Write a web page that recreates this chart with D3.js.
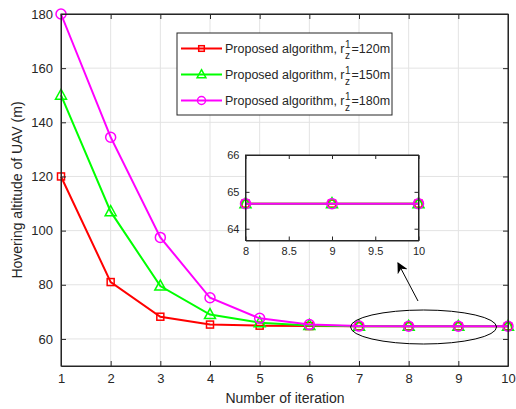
<!DOCTYPE html>
<html>
<head>
<meta charset="utf-8">
<script src="https://cdn.jsdelivr.net/npm/d3@7"></script>
<style>
  body { margin: 0; background: #fff; }
  text { font-family: "Liberation Sans", Arial, sans-serif; fill: #262626; }
</style>
</head>
<body>
<div id="chart"></div>
<script>
var iterations = [1, 2, 3, 4, 5, 6, 7, 8, 9, 10];
var alt120 = [120, 81, 68.2, 65.3, 64.9, 64.75, 64.68, 64.68, 64.68, 64.68];
var alt150 = [150, 107, 79.5, 69, 66, 65, 64.7, 64.68, 64.68, 64.68];
var alt180 = [180, 134.5, 97.5, 75.2, 67.6, 65.3, 64.75, 64.68, 64.68, 64.68];
var seriesNames = ["120m", "150m", "180m"];
var yTicks = [60, 80, 100, 120, 140, 160, 180];
var insetXTicks = [8, 8.5, 9, 9.5, 10];
var insetYTicks = [64, 65, 66];

var series = [
  {name: seriesNames[0], values: alt120, color: "#ff0000", marker: "square"},
  {name: seriesNames[1], values: alt150, color: "#00ff00", marker: "triangle"},
  {name: seriesNames[2], values: alt180, color: "#ff00ff", marker: "circle"}
];

var W = 516, H = 409;
var svg = d3.select("#chart").append("svg").attr("width", W).attr("height", H);

var x = d3.scaleLinear().domain([1, 10]).range([61, 508]);
var y = d3.scaleLinear().domain([50, 180]).range([366, 14]);

// grid
svg.append("g").selectAll("line").data(iterations).enter().append("line")
  .attr("x1", d => x(d)).attr("x2", d => x(d)).attr("y1", 14).attr("y2", 366)
  .attr("stroke", "#e3e3e3").attr("stroke-width", 1);
svg.append("g").selectAll("line").data(yTicks).enter().append("line")
  .attr("x1", 61).attr("x2", 508).attr("y1", d => y(d)).attr("y2", d => y(d))
  .attr("stroke", "#e3e3e3").attr("stroke-width", 1);

function drawMarker(g, type, cx, cy, color, s) {
  s = s || 1;
  if (type === "square") {
    g.append("rect").attr("x", cx - 3.5 * s).attr("y", cy - 3.5 * s).attr("width", 7 * s).attr("height", 7 * s)
      .attr("fill", "none").attr("stroke", color).attr("stroke-width", 1.5);
  } else if (type === "triangle") {
    g.append("path").attr("d", "M" + cx + "," + (cy - 6 * s) + "L" + (cx + 5.5 * s) + "," + (cy + 4 * s) + "L" + (cx - 5.5 * s) + "," + (cy + 4 * s) + "Z")
      .attr("fill", "none").attr("stroke", color).attr("stroke-width", 1.5);
  } else {
    g.append("circle").attr("cx", cx).attr("cy", cy).attr("r", 5 * s)
      .attr("fill", "none").attr("stroke", color).attr("stroke-width", 1.5);
  }
}

function drawSeries(g, xs, ys, xsFilter, s) {
  series.forEach(function (ser) {
    var pts = iterations.map((it, i) => [it, ser.values[i]]).filter(p => xsFilter(p[0]));
    g.append("path").datum(pts)
      .attr("d", d3.line().x(p => xs(p[0])).y(p => ys(p[1])))
      .attr("fill", "none").attr("stroke", ser.color).attr("stroke-width", 2);
    pts.forEach(p => drawMarker(g, ser.marker, xs(p[0]), ys(p[1]), ser.color, s));
  });
}

var plot = svg.append("g");
drawSeries(plot, x, y, d => true, 1);

// axes box
svg.append("rect").attr("x", 61).attr("y", 14).attr("width", 447).attr("height", 352)
  .attr("fill", "none").attr("stroke", "#262626").attr("stroke-width", 1);

var axB = svg.append("g").attr("transform", "translate(0,366)")
  .call(d3.axisBottom(x).tickValues(iterations).tickFormat(d3.format("d")).tickSizeInner(-5).tickSizeOuter(0));
var axT = svg.append("g").attr("transform", "translate(0,14)")
  .call(d3.axisTop(x).tickValues(iterations).tickFormat("").tickSizeInner(-5).tickSizeOuter(0));
var axL = svg.append("g").attr("transform", "translate(61,0)")
  .call(d3.axisLeft(y).tickValues(yTicks).tickSizeInner(-5).tickSizeOuter(0));
var axR = svg.append("g").attr("transform", "translate(508,0)")
  .call(d3.axisRight(y).tickValues(yTicks).tickFormat("").tickSizeInner(-5).tickSizeOuter(0));
[axB, axT, axL, axR].forEach(function (a) {
  a.select(".domain").attr("stroke", "#262626");
  a.selectAll(".tick line").attr("stroke", "#262626");
  a.selectAll("text").attr("font-size", 13).attr("fill", "#262626")
    .style("font-family", "'Liberation Sans', Arial, sans-serif");
});
axB.selectAll("text").attr("dy", "1.1em");
axL.selectAll("text").attr("x", -8);

svg.append("text").attr("x", 285).attr("y", 403).attr("text-anchor", "middle")
  .attr("font-size", 14).text("Number of iteration");
svg.append("text").attr("transform", "translate(22,190) rotate(-90)").attr("text-anchor", "middle")
  .attr("font-size", 14).text("Hovering altitude of UAV (m)");

// legend
var leg = svg.append("g");
leg.append("rect").attr("x", 177).attr("y", 33).attr("width", 215).attr("height", 82)
  .attr("fill", "#fff").attr("stroke", "#262626").attr("stroke-width", 1);
series.forEach(function (ser, i) {
  var ly = 48.5 + i * 26;
  leg.append("line").attr("x1", 181).attr("x2", 222).attr("y1", ly).attr("y2", ly)
    .attr("stroke", ser.color).attr("stroke-width", 2);
  drawMarker(leg, ser.marker, 201.5, ly, ser.color, 0.8);
  var t = leg.append("text").attr("x", 225).attr("y", ly + 4.5).attr("font-size", 12.5).attr("fill", "#000");
  t.append("tspan").text("Proposed algorithm, r");
  var tx = 225 + t.node().getComputedTextLength();
  leg.append("text").attr("x", tx + 0.5).attr("y", ly - 1).attr("font-size", 10).attr("fill", "#000").text("1");
  leg.append("text").attr("x", tx + 0.5).attr("y", ly + 10).attr("font-size", 10).attr("fill", "#000").text("z");
  leg.append("text").attr("x", tx + 7).attr("y", ly + 4.5).attr("font-size", 12.5).attr("fill", "#000")
    .text("=" + ser.name);
});

// inset
var ix = d3.scaleLinear().domain([8, 10]).range([245.5, 418.5]);
var iy = d3.scaleLinear().domain([63.68, 66]).range([240.5, 155]);
svg.append("rect").attr("x", 245.5).attr("y", 155).attr("width", 173).attr("height", 85.5).attr("fill", "#fff");
var inset = svg.append("g");
drawSeries(inset, ix, iy, d => d >= 8, 1);
svg.append("rect").attr("x", 245.5).attr("y", 155).attr("width", 173).attr("height", 85.5)
  .attr("fill", "none").attr("stroke", "#262626").attr("stroke-width", 1);
var fmt = d => String(d);
var iB = svg.append("g").attr("transform", "translate(0,240.5)")
  .call(d3.axisBottom(ix).tickValues(insetXTicks).tickFormat(fmt).tickSizeInner(-4).tickSizeOuter(0));
var iT = svg.append("g").attr("transform", "translate(0,155)")
  .call(d3.axisTop(ix).tickValues(insetXTicks).tickFormat("").tickSizeInner(-4).tickSizeOuter(0));
var iL = svg.append("g").attr("transform", "translate(245.5,0)")
  .call(d3.axisLeft(iy).tickValues(insetYTicks).tickFormat(fmt).tickSizeInner(-4).tickSizeOuter(0));
var iR = svg.append("g").attr("transform", "translate(418.5,0)")
  .call(d3.axisRight(iy).tickValues(insetYTicks).tickFormat("").tickSizeInner(-4).tickSizeOuter(0));
[iB, iT, iL, iR].forEach(function (a) {
  a.select(".domain").attr("stroke", "#262626");
  a.selectAll(".tick line").attr("stroke", "#262626");
  a.selectAll("text").attr("font-size", 11).attr("fill", "#262626")
    .style("font-family", "'Liberation Sans', Arial, sans-serif");
});
iB.selectAll("text").attr("dy", "1.05em");
iL.selectAll("text").attr("x", -6);

// ellipse and arrow
svg.append("ellipse").attr("cx", x(8.3)).attr("cy", 327).attr("rx", 73).attr("ry", 17)
  .attr("fill", "none").attr("stroke", "#000").attr("stroke-width", 1);
svg.append("defs").append("marker").attr("id", "ah").attr("viewBox", "0 0 10 10")
  .attr("refX", 9).attr("refY", 5).attr("markerWidth", 11).attr("markerHeight", 11)
  .attr("orient", "auto").attr("markerUnits", "userSpaceOnUse")
  .append("path").attr("d", "M0,0L10,5L0,10L3,5Z").attr("fill", "#000");
svg.append("line").attr("x1", 418).attr("y1", 301).attr("x2", 398).attr("y2", 263)
  .attr("stroke", "#000").attr("stroke-width", 1).attr("marker-end", "url(#ah)");
</script>
</body>
</html>
